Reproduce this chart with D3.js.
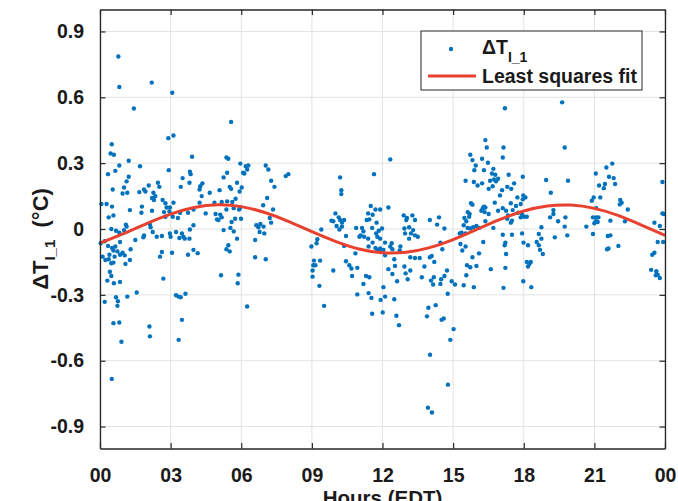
<!DOCTYPE html>
<html><head><meta charset="utf-8">
<script src="https://cdn.jsdelivr.net/npm/d3@7"></script>
<style>
body{margin:0;background:#fff}
svg{display:block}
text{font-family:"Liberation Sans",Arial,sans-serif;font-weight:bold;fill:#1a1a1a}
</style>
</head><body>
<svg id="chart" width="678" height="501"></svg>
<script>
// ---- data ----
const hours = [
0.50,0.45,0.59,2.90,3.12,3.91,0.34,0.65,0.82,1.22,1.70,2.92,3.82,3.85,3.51,3.80,0.54,1.02,1.13,1.22,0.96,1.16,1.67,1.87,1.93,2.07,2.46,2.52,2.27,2.35,2.21,2.29,2.66,2.78,2.83,2.97,3.12,2.95,3.43,0.06,0.28,0.51,0.37,0.57,1.27,1.78,1.76,2.21,2.72,2.78,3.09,3.31,3.40,3.74,3.97,0.48,0.68,0.82,1.02,1.13,1.10,2.12,2.15,2.24,2.63,2.41,2.97,3.00,3.23,3.48,3.54,3.82,3.97,3.80,3.60,3.37,1.84,1.87,1.50,0.03,0.20,0.34,0.51,0.57,0.65,0.85,0.40,0.62,0.74,0.85,0.96,1.05,1.30,0.11,0.23,0.37,0.48,0.57,1.08,1.27,2.55,2.63,3.06,3.74,3.97,0.42,0.48,0.31,0.59,0.85,2.69,1.56,3.23,3.34,3.43,3.63,0.20,0.68,0.76,0.74,1.16,0.57,0.82,2.10,2.12,3.48,3.34,0.91,0.78,0.82,2.20,3.07,1.44,0.50,
5.57,5.37,5.45,5.96,6.19,6.30,6.25,6.13,6.08,7.04,7.15,7.27,7.41,7.89,8.00,5.40,5.25,5.82,6.02,5.93,5.51,5.57,5.08,4.66,4.35,4.26,4.23,4.32,4.23,4.86,5.17,5.40,5.62,5.76,7.10,6.93,7.35,4.49,4.91,5.11,5.17,5.03,4.97,5.37,5.68,5.91,5.96,5.74,5.59,5.99,5.25,5.54,5.68,7.21,7.27,6.64,6.73,6.81,6.95,6.78,6.98,5.82,6.59,5.45,5.37,5.51,4.15,6.59,7.04,5.14,5.88,5.85,6.25,
10.20,11.64,10.25,10.25,11.50,11.70,11.39,11.58,11.44,11.33,11.75,11.90,10.00,10.14,9.83,9.91,10.20,10.37,10.28,10.05,10.17,10.28,10.45,10.88,11.13,11.19,11.07,11.02,11.22,11.39,11.56,11.73,11.84,11.98,11.78,11.90,11.58,11.41,11.70,11.78,11.90,12.04,11.92,9.40,9.23,9.20,8.98,10.37,10.85,9.09,9.35,9.06,9.03,9.03,9.15,9.91,10.45,10.59,10.68,10.71,10.93,11.30,11.44,11.19,11.41,11.53,10.93,9.32,9.52,11.92,11.56,12.01,12.04,
12.33,12.25,12.90,13.04,13.01,13.27,13.38,12.93,13.13,13.30,13.21,13.38,13.50,12.96,13.13,14.01,14.40,14.32,14.63,14.46,14.54,12.11,12.33,12.39,12.42,12.76,12.73,12.11,12.50,12.53,12.25,12.42,12.62,13.18,13.38,13.58,12.93,12.98,13.18,13.07,13.78,13.67,14.01,14.09,14.20,14.18,14.06,14.15,14.74,14.63,14.46,14.49,14.94,15.08,14.77,12.11,12.50,12.59,12.70,13.95,13.89,14.26,14.51,14.60,15.02,14.88,15.73,15.82,15.96,15.90,16.04,15.53,15.88,15.76,15.82,15.62,15.70,15.68,15.48,15.56,15.45,15.62,15.73,15.85,15.99,16.10,15.36,15.53,15.28,15.31,15.53,15.39,16.10,15.82,15.99,15.59,15.73,15.56,15.45,15.88,14.02,13.93,14.10,14.78,
16.37,16.43,17.14,17.11,19.74,16.23,16.48,16.31,16.71,16.65,16.79,16.74,16.91,16.82,16.57,16.68,16.23,16.51,17.36,17.59,17.30,17.47,17.08,16.99,17.96,17.73,17.98,18.07,17.96,18.95,19.88,19.15,16.31,16.26,16.37,16.20,16.34,16.77,16.51,16.91,17.11,17.25,17.53,17.45,17.67,17.87,17.33,17.30,17.50,17.45,17.76,17.93,17.87,18.01,18.13,16.37,16.71,19.26,19.26,19.12,19.46,19.77,19.74,19.32,19.85,18.75,17.11,17.50,17.93,17.99,18.18,18.64,18.75,18.55,18.64,18.69,18.81,16.28,17.22,17.19,17.25,16.60,17.22,18.13,18.24,18.30,18.18,17.98,18.32,17.14,17.20,19.63,
21.76,21.51,21.06,21.62,21.82,21.88,21.20,21.45,21.40,21.25,20.97,20.89,22.10,22.16,22.08,22.42,21.08,20.94,21.08,21.17,21.06,21.14,21.00,21.68,22.30,20.66,20.94,21.57,21.68,21.60,21.54,22.02,23.55,23.78,23.89,23.89,23.95,23.69,23.92,23.46,23.55,23.41,23.63,23.69,23.61,23.78
];
const deltaT = [
0.386,0.344,0.338,0.414,0.426,0.329,0.25,0.265,0.289,0.311,0.286,0.268,0.261,0.25,0.232,0.211,0.18,0.189,0.217,0.238,0.162,0.165,0.168,0.18,0.171,0.198,0.211,0.192,0.165,0.15,0.141,0.132,0.132,0.117,0.098,0.098,0.12,0.08,0.192,0.114,0.114,0.102,0.053,0.062,0.086,0.102,0.074,0.083,0.077,0.056,0.056,0.05,0.074,0.074,0.089,0.0,-0.008,-0.017,-0.005,0.011,0.02,0.02,0.008,-0.014,-0.032,-0.035,-0.02,-0.035,-0.014,-0.02,-0.035,-0.002,0.017,-0.044,-0.044,-0.041,-0.038,-0.029,-0.05,-0.065,-0.056,-0.077,-0.086,-0.098,-0.08,-0.059,-0.117,-0.126,-0.102,-0.117,-0.108,-0.12,-0.092,-0.126,-0.141,-0.138,-0.156,-0.153,-0.159,-0.141,-0.126,-0.105,-0.108,-0.117,-0.095,-0.195,-0.214,-0.235,-0.247,-0.241,-0.226,-0.289,-0.302,-0.308,-0.311,-0.295,-0.332,-0.311,-0.329,-0.35,-0.308,-0.429,-0.426,-0.444,-0.489,-0.414,-0.505,-0.514,0.786,0.647,0.667,0.621,0.549,-0.683,
0.488,0.326,0.320,0.298,0.286,0.289,0.271,0.253,0.256,0.289,0.271,0.22,0.192,0.241,0.25,0.256,0.235,0.211,0.189,0.171,0.192,0.183,0.177,0.165,0.208,0.195,0.18,0.15,0.12,0.12,0.123,0.126,0.123,0.138,0.141,0.108,0.089,0.071,0.068,0.065,0.053,0.041,0.044,0.089,0.095,0.089,0.098,0.047,0.032,0.047,-0.005,0.005,-0.011,0.05,0.029,0.017,0.008,0.023,0.011,-0.014,-0.02,-0.044,-0.05,-0.074,-0.092,-0.102,-0.11,-0.129,-0.138,-0.211,-0.208,-0.247,-0.353,
0.235,0.25,0.177,0.159,0.105,0.089,0.071,0.065,0.044,0.041,0.029,0.089,0.071,0.053,0.038,0.035,0.041,0.041,0.029,0.014,-0.002,0.011,-0.032,0.005,0.005,-0.011,-0.029,-0.035,-0.035,-0.044,0.005,-0.02,-0.008,0.002,-0.035,-0.044,-0.062,-0.08,-0.086,-0.095,-0.089,-0.095,-0.105,-0.002,-0.047,-0.065,-0.08,-0.077,-0.111,-0.144,-0.144,-0.165,-0.189,-0.217,-0.165,-0.189,-0.147,-0.165,-0.18,-0.214,-0.177,-0.214,-0.22,-0.25,-0.292,-0.314,-0.298,-0.259,-0.35,-0.323,-0.386,-0.38,-0.265,
0.317,0.098,0.062,0.05,0.041,0.062,0.041,0.002,0.008,-0.005,-0.02,-0.029,-0.035,-0.02,-0.044,0.041,0.053,0.02,0.002,-0.062,-0.092,-0.062,-0.08,-0.065,-0.092,-0.08,-0.098,-0.12,-0.138,-0.168,-0.183,-0.205,-0.238,-0.129,-0.132,-0.132,-0.171,-0.202,-0.189,-0.229,-0.171,-0.22,-0.129,-0.123,-0.15,-0.22,-0.235,-0.253,-0.189,-0.214,-0.25,-0.229,-0.238,-0.253,-0.295,-0.308,-0.32,-0.395,-0.438,-0.359,-0.398,-0.347,-0.414,-0.408,-0.456,-0.505,0.338,0.314,0.289,0.268,0.198,0.22,0.214,0.117,0.111,0.077,0.068,0.056,0.05,0.035,0.017,0.005,0.002,0.008,0.014,0.005,-0.017,-0.02,-0.02,-0.068,-0.08,-0.098,-0.111,-0.129,-0.168,-0.165,-0.174,-0.211,-0.256,-0.265,-0.573,-0.814,-0.836,-0.709,
0.405,0.371,0.371,0.326,0.371,0.32,0.302,0.268,0.274,0.253,0.247,0.226,0.229,0.217,0.22,0.195,0.208,0.183,0.247,0.208,0.192,0.183,0.177,0.153,0.238,0.144,0.153,0.144,0.135,0.223,0.22,0.165,0.102,0.095,0.098,0.083,0.077,0.12,0.068,0.083,0.095,0.083,0.086,0.117,0.105,0.114,0.062,0.047,0.038,0.029,0.074,0.065,0.053,0.056,0.056,0.035,0.005,0.086,0.068,0.053,0.035,0.053,0.011,-0.038,-0.029,0.008,-0.026,-0.026,-0.02,-0.062,-0.074,-0.023,-0.044,-0.059,-0.074,-0.095,-0.114,-0.059,-0.062,-0.074,-0.114,-0.183,-0.177,-0.15,-0.159,-0.15,-0.171,-0.238,-0.265,-0.268,0.55,0.577,
0.298,0.28,0.253,0.238,0.232,0.205,0.198,0.205,0.186,0.144,0.144,0.129,0.132,0.12,0.112,0.089,0.095,0.053,0.053,0.053,0.035,0.032,0.026,0.038,0.035,0.011,-0.023,-0.032,-0.029,-0.089,-0.092,-0.077,0.029,0.014,0.214,0.071,0.068,-0.059,-0.059,-0.117,-0.108,-0.186,-0.192,-0.208,-0.211,-0.223
];
const fitHours = [0,1,2,3,4,5,6,7,8,9,10,11,12,13,14,15,16,17,18,19,20,21,22,23,24];
const fitValues = [-0.064,-0.021,0.026,0.068,0.098,0.110,0.102,0.075,0.035,-0.012,-0.056,-0.091,-0.108,-0.106,-0.085,-0.048,-0.002,0.044,0.082,0.105,0.109,0.094,0.062,0.018,-0.029];
const xTicks = [0,3,6,9,12,15,18,21,24];
const xTickLabels = ["00","03","06","09","12","15","18","21","00"];
const yTicks = [-0.9,-0.6,-0.3,0,0.3,0.6,0.9];
const yTickLabels = ["-0.9","-0.6","-0.3","0","0.3","0.6","0.9"];

// ---- drawing ----
const svg = d3.select("#chart");
const L = 100, R = 665, T = 9.5, B = 448.5;
const x = d3.scaleLinear().domain([0, 24]).range([L, R]);
const y = d3.scaleLinear().domain([-1, 1]).range([B, T]);
const axisCol = "#262626", gridCol = "#e3e3e3", tickLen = 5.5;

// grid
const g = svg.append("g");
g.selectAll("line.vg").data(xTicks).join("line")
  .attr("x1", d => x(d)).attr("x2", d => x(d)).attr("y1", T).attr("y2", B)
  .attr("stroke", gridCol).attr("stroke-width", 1);
g.selectAll("line.hg").data(yTicks).join("line")
  .attr("y1", d => y(d)).attr("y2", d => y(d)).attr("x1", L).attr("x2", R)
  .attr("stroke", gridCol).attr("stroke-width", 1);

// points
const pts = hours.map((h, i) => ({h, v: deltaT[i]}));
svg.append("g").selectAll("circle").data(pts).join("circle")
  .attr("cx", d => x(d.h)).attr("cy", d => y(d.v)).attr("r", 2.2)
  .attr("fill", "#0072BD");

// fit line
const fit = fitHours.map((h, i) => [h, fitValues[i]]);
svg.append("path").datum(fit)
  .attr("d", d3.line().x(d => x(d[0])).y(d => y(d[1])).curve(d3.curveNatural))
  .attr("fill", "none").attr("stroke", "#e8412f").attr("stroke-width", 3);

// axes (MATLAB-style box with inward ticks)
const fmtX = (d, i) => xTickLabels[i];
const fmtY = (d, i) => yTickLabels[i];
function styleAxis(sel) {
  sel.select(".domain").attr("stroke", axisCol).attr("stroke-width", 1.3);
  sel.selectAll(".tick line").attr("stroke", axisCol).attr("stroke-width", 1.2);
  sel.selectAll("text").attr("font-size", 19.5).attr("font-family", "'Liberation Sans',Arial,sans-serif")
     .attr("font-weight", "bold").attr("fill", "#111");
}
svg.append("g").attr("transform", `translate(0,${B})`)
  .call(d3.axisBottom(x).tickValues(xTicks).tickFormat(fmtX).tickSizeInner(-tickLen).tickSizeOuter(0).tickPadding(20))
  .call(styleAxis);
svg.append("g").attr("transform", `translate(0,${T})`)
  .call(d3.axisTop(x).tickValues(xTicks).tickFormat("").tickSizeInner(-tickLen).tickSizeOuter(0))
  .call(styleAxis);
svg.append("g").attr("transform", `translate(${L},0)`)
  .call(d3.axisLeft(y).tickValues(yTicks).tickFormat(fmtY).tickSizeInner(-tickLen).tickSizeOuter(0).tickPadding(16))
  .call(styleAxis);
svg.append("g").attr("transform", `translate(${R},0)`)
  .call(d3.axisRight(y).tickValues(yTicks).tickFormat("").tickSizeInner(-tickLen).tickSizeOuter(0))
  .call(styleAxis);

// axis labels
svg.append("text").attr("x", (L + R) / 2).attr("y", 505).attr("text-anchor", "middle")
  .attr("font-size", 20.5).text("Hours (EDT)");
const yl = svg.append("text").attr("transform", "translate(48,239) rotate(-90)")
  .attr("text-anchor", "middle").attr("font-size", 22);
yl.append("tspan").text("ΔT");
yl.append("tspan").attr("font-size", 15).attr("dy", 7).text("I_1");
yl.append("tspan").attr("dy", -7).text("  (°C)").attr("xml:space", "preserve");

// legend
const lg = svg.append("g");
lg.append("rect").attr("x", 421).attr("y", 31).attr("width", 221).attr("height", 59)
  .attr("fill", "#fff").attr("stroke", axisCol).attr("stroke-width", 1);
lg.append("circle").attr("cx", 451).attr("cy", 49).attr("r", 2.2).attr("fill", "#0072BD");
const lt = lg.append("text").attr("x", 482).attr("y", 54).attr("font-size", 19.5);
lt.append("tspan").text("ΔT");
lt.append("tspan").attr("font-size", 14).attr("dy", 8).text("I_1");
lg.append("line").attr("x1", 428).attr("x2", 476).attr("y1", 76).attr("y2", 76)
  .attr("stroke", "#e8412f").attr("stroke-width", 3);
lg.append("text").attr("x", 482).attr("y", 83).attr("font-size", 19.5).text("Least squares fit");
</script>
</body></html>
